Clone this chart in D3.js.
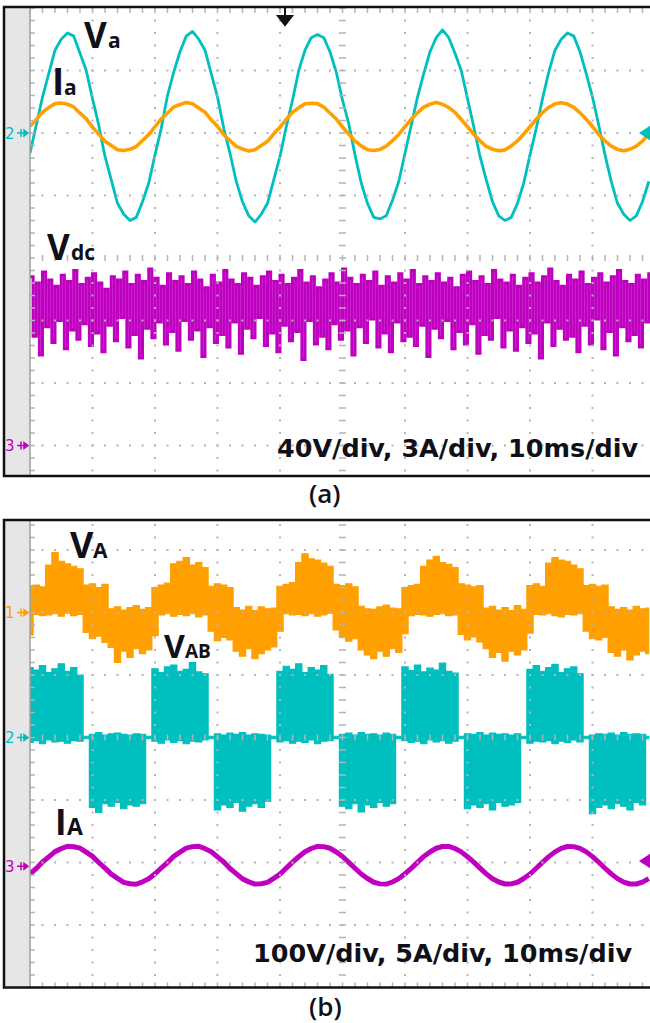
<!DOCTYPE html>
<html>
<head>
<meta charset="utf-8">
<script src="https://cdn.jsdelivr.net/npm/d3@7"></script>
<style>
  body { margin: 0; background: #fff; }
  svg { display: block; }
</style>
</head>
<body>
<div id="chart"></div>
<script>
// one sample per ms, t = 0..99 ms (10 ms/div)

// panel (a), channel 2: Va [V], Ia [A]
const vaVolts = [
  -13, 5, 23, 38, 53, 60, 64, 62, 51, 40, 22, 5, -15, -30, -45, -52, -56, -54, -44, -32,
  -14, 3, 24, 39, 52, 62, 65, 60, 53, 38, 23, 3, -13, -31, -44, -53, -57, -52, -45, -30,
  -15, 4, 21, 40, 53, 61, 63, 61, 52, 39, 21, 6, -14, -32, -45, -54, -55, -53, -43, -31,
  -13, 5, 23, 38, 52, 61, 66, 61, 51, 40, 22, 4, -15, -30, -44, -53, -56, -54, -45, -32,
  -14, 3, 22, 39, 53, 60, 64, 62, 52, 38, 23, 5, -14, -31, -45, -52, -56, -53, -44, -31
];
const iaAmps = [
  0.32, 0.64, 1.0, 1.22, 1.41, 1.44, 1.38, 1.25, 0.95, 0.68, 0.28, -0.05, -0.4, -0.6, -0.8, -0.84, -0.78, -0.65, -0.36, -0.08,
  0.3, 0.68, 0.96, 1.25, 1.37, 1.46, 1.4, 1.2, 1.0, 0.63, 0.32, -0.08, -0.37, -0.64, -0.77, -0.86, -0.8, -0.6, -0.4, -0.04,
  0.28, 0.65, 0.99, 1.22, 1.4, 1.43, 1.41, 1.24, 0.96, 0.67, 0.29, -0.05, -0.39, -0.62, -0.8, -0.84, -0.79, -0.63, -0.37, -0.07,
  0.31, 0.67, 0.97, 1.24, 1.38, 1.47, 1.38, 1.22, 0.99, 0.65, 0.3, -0.06, -0.38, -0.64, -0.78, -0.85, -0.81, -0.62, -0.38, -0.05,
  0.3, 0.66, 0.98, 1.23, 1.4, 1.45, 1.39, 1.23, 0.97, 0.66, 0.31, -0.06, -0.38, -0.63, -0.79, -0.85, -0.78, -0.63, -0.39, -0.06
];

// panel (a), channel 3: Vdc ripple, upper / lower swing in each ms [V]
const vdcHi = [
  108, 104, 111, 106, 102, 109, 105, 112, 103, 107, 110, 104, 100, 108, 106, 111, 103, 109, 105, 113,
  107, 102, 110, 105, 108, 103, 111, 106, 101, 109, 104, 112, 106, 103, 110, 107, 102, 108, 111, 105,
  109, 103, 107, 112, 104, 108, 101, 106, 110, 104, 113, 107, 103, 109, 105, 111, 102, 108, 104, 110,
  106, 112, 103, 108, 105, 110, 104, 107, 101, 109, 111, 105, 108, 103, 112, 106, 104, 109, 102, 107,
  110, 104, 108, 113, 105, 102, 109, 106, 111, 103, 107, 110, 104, 108, 112, 105, 103, 109, 106, 110
];
const vdcLo = [
  70, 58, 76, 66, 80, 62, 74, 68, 78, 64, 72, 60, 77, 67, 82, 63, 71, 56, 75, 69,
  79, 65, 73, 61, 80, 68, 74, 57, 76, 66, 71, 63, 79, 59, 75, 69, 82, 64, 72, 60,
  77, 67, 73, 55, 80, 65, 70, 62, 78, 68, 74, 58, 76, 66, 81, 63, 72, 60, 79, 67,
  70, 64, 77, 57, 75, 69, 80, 62, 73, 65, 78, 59, 71, 68, 82, 63, 74, 61, 76, 66,
  72, 56, 79, 64, 75, 68, 70, 60, 77, 65, 81, 62, 73, 58, 76, 67, 71, 63, 79, 66
];

// panel (b), channel 1: VA envelope [V]
const vAHi = [
  43, 44, 41, 76, 96, 82, 78, 74, 70, 44, 46, 40, 45, 6, 9, 4, 8, 11, 5, 8,
  40, 44, 47, 78, 82, 88, 76, 80, 72, 42, 46, 44, 40, 8, 4, 10, 3, 9, 6, 7,
  42, 45, 48, 80, 94, 86, 84, 79, 74, 45, 43, 46, 41, 10, 6, 5, 9, 12, 7, 6,
  40, 43, 45, 74, 84, 90, 80, 77, 72, 46, 44, 41, 43, 7, 10, 4, 8, 3, 11, 5,
  43, 46, 42, 79, 88, 84, 82, 76, 70, 43, 45, 42, 44, 9, 5, 8, 4, 10, 6, 7
];
const vALo = [
  -36, -3, -5, -4, -2, -6, -1, -5, -3, -32, -42, -38, -48, -56, -80, -62, -72, -58, -66, -60,
  -37, -4, -2, -6, -3, -5, -2, -7, -4, -30, -45, -40, -44, -62, -70, -58, -74, -66, -60, -55,
  -30, -2, -4, -3, -5, -2, -6, -4, -1, -28, -40, -46, -42, -60, -68, -74, -62, -70, -58, -64,
  -34, -5, -3, -4, -6, -3, -2, -5, -4, -35, -44, -39, -47, -58, -72, -64, -78, -62, -68, -60,
  -33, -3, -4, -2, -5, -7, -3, -4, -2, -30, -42, -44, -40, -64, -70, -60, -76, -68, -62, -66
];

// panel (b), channel 2: VAB envelope [V]
const vABHi = [
  112, 108, 115, 104, 110, 118, 106, 112, 100, 2, 5, 8, 4, 6, 7, 5, 4, 6, 5, 2,
  110, 104, 113, 116, 106, 109, 120, 105, 102, 2, 6, 4, 7, 5, 8, 4, 6, 5, 4, 2,
  106, 114, 109, 118, 104, 112, 108, 115, 101, 2, 5, 7, 4, 8, 5, 6, 4, 7, 5, 2,
  113, 107, 116, 105, 111, 108, 119, 106, 103, 2, 6, 5, 8, 4, 7, 5, 6, 4, 6, 2,
  109, 115, 106, 112, 117, 104, 110, 113, 102, 2, 4, 6, 5, 7, 4, 8, 5, 6, 5, 2
];
const vABLo = [
  -8, -5, -10, -4, -7, -6, -9, -5, -6, -2, -112, -120, -106, -110, -104, -114, -108, -110, -106, -2,
  -6, -9, -4, -8, -5, -10, -6, -7, -4, -2, -116, -108, -112, -104, -118, -110, -106, -112, -102, -2,
  -7, -5, -9, -6, -8, -4, -10, -6, -5, -2, -110, -114, -106, -119, -108, -112, -104, -110, -106, -2,
  -5, -8, -6, -10, -4, -7, -5, -9, -6, -2, -114, -108, -112, -106, -116, -104, -110, -108, -104, -2,
  -9, -6, -7, -5, -10, -6, -8, -4, -7, -2, -122, -112, -108, -114, -106, -110, -116, -104, -108, -2
];

// panel (b), channel 3: IA [A]
const iAAmps = [
  -0.61, -0.18, 0.34, 0.75, 1.17, 1.41, 1.6, 1.56, 1.45, 1.13, 0.79, 0.3, -0.15, -0.63, -0.97, -1.29, -1.4, -1.44, -1.25, -1.0,
  -0.6, -0.14, 0.3, 0.79, 1.13, 1.45, 1.57, 1.6, 1.41, 1.16, 0.75, 0.34, -0.18, -0.59, -1.01, -1.25, -1.43, -1.4, -1.29, -0.97,
  -0.63, -0.15, 0.33, 0.76, 1.16, 1.42, 1.59, 1.57, 1.44, 1.14, 0.78, 0.31, -0.16, -0.62, -0.98, -1.28, -1.41, -1.43, -1.26, -0.99,
  -0.6, -0.17, 0.31, 0.78, 1.14, 1.44, 1.58, 1.59, 1.42, 1.15, 0.76, 0.33, -0.15, -0.61, -1.0, -1.26, -1.42, -1.41, -1.28, -0.98,
  -0.62, -0.16, 0.32, 0.77, 1.15, 1.43, 1.58, 1.57, 1.43, 1.15, 0.77, 0.32, -0.16, -0.61, -0.99, -1.27, -1.42, -1.42, -1.27, -0.99
];

const scaleTexts = ["40V/div, 3A/div, 10ms/div", "100V/div, 5A/div, 10ms/div"];
const panelNames = ["(a)", "(b)"];

const width = 650, height = 1023;
const colors = { ch1: "#ffa000", ch2: "#00bfbf", ch3: "#c000c0" };
const gridColor = "#b4b4b4";

const svg = d3.select("#chart")
    .append("svg")
    .attr("width", width)
    .attr("height", height);

svg.append("rect").attr("width", width).attr("height", height).attr("fill", "#fff");

// time axis, 10 divisions of 10 ms
const x = d3.scaleLinear().domain([0, 100]).range([30, 655]);
const samples = d3.range(vaVolts.length);

const panels = [
    { top: 7, bottom: 476, center: 258, id: "a" },
    { top: 520, bottom: 987.5, center: 737.5, id: "b" }
].map(p => {
    p.y = d3.scaleLinear().domain([-4, 4]).range([p.center + 250, p.center - 250]);
    p.g = svg.append("g");
    svg.append("clipPath").attr("id", "clip" + p.id)
        .append("rect").attr("x", 30).attr("y", p.top).attr("width", 620).attr("height", p.bottom - p.top);
    return p;
});

// channel position on screen: ref offset in div + value / (units per div)
const chY = (p, ref, perDiv) => v => p.y(ref + v / perDiv);

function frame(p) {
    p.g.append("rect")
        .attr("x", 5).attr("y", p.top).attr("width", 25).attr("height", p.bottom - p.top)
        .attr("fill", "#e6e6e6");
}

function grid(p) {
    const g = p.g.append("g").attr("clip-path", `url(#clip${p.id})`);
    const yTop = p.y(4), yBot = p.y(-4);
    // horizontal division lines
    [-3, -2, -1, 1, 2, 3].forEach(k => {
        g.append("line")
            .attr("x1", x(0)).attr("x2", x(100)).attr("y1", p.y(k)).attr("y2", p.y(k))
            .attr("stroke", gridColor).attr("stroke-width", 2)
            .attr("stroke-dasharray", "2 10.5").attr("stroke-dashoffset", 1);
    });
    // vertical division lines
    d3.range(1, 10).filter(j => j !== 5).forEach(j => {
        g.append("line")
            .attr("x1", x(j * 10)).attr("x2", x(j * 10)).attr("y1", yTop).attr("y2", yBot)
            .attr("stroke", gridColor).attr("stroke-width", 2)
            .attr("stroke-dasharray", "2 10.5").attr("stroke-dashoffset", 1);
    });
    // centre lines with minor ticks
    g.append("line")
        .attr("x1", x(0)).attr("x2", x(100)).attr("y1", p.y(0)).attr("y2", p.y(0))
        .attr("stroke", gridColor).attr("stroke-width", 6)
        .attr("stroke-dasharray", "1.5 11").attr("stroke-dashoffset", 0.75);
    g.append("line")
        .attr("x1", x(50)).attr("x2", x(50)).attr("y1", yTop).attr("y2", yBot)
        .attr("stroke", gridColor).attr("stroke-width", 7)
        .attr("stroke-dasharray", "1.5 11").attr("stroke-dashoffset", 0.75);
    // edge ticks
    g.append("line")
        .attr("x1", x(0) + 2.5).attr("x2", x(0) + 2.5).attr("y1", yTop).attr("y2", yBot)
        .attr("stroke", gridColor).attr("stroke-width", 5)
        .attr("stroke-dasharray", "1.5 11").attr("stroke-dashoffset", 0.75);
    [yTop + 2.5, yBot - 2.5].forEach(yy => {
        g.append("line")
            .attr("x1", x(0)).attr("x2", x(100)).attr("y1", yy).attr("y2", yy)
            .attr("stroke", gridColor).attr("stroke-width", 5)
            .attr("stroke-dasharray", "1.5 11").attr("stroke-dashoffset", 0.75);
    });
    p.g.append("line")
        .attr("x1", 30).attr("x2", 30).attr("y1", p.top).attr("y2", p.bottom)
        .attr("stroke", "#a0a0a0").attr("stroke-width", 1.5);
}

function border(p) {
    p.g.append("rect")
        .attr("x", 4).attr("y", p.top).attr("width", 660).attr("height", p.bottom - p.top)
        .attr("fill", "none").attr("stroke", "#111").attr("stroke-width", 2.5);
}

function lineTrace(p, values, yf, color, w) {
    p.g.append("path")
        .attr("clip-path", `url(#clip${p.id})`)
        .datum(values)
        .attr("fill", "none")
        .attr("stroke", color)
        .attr("stroke-width", w)
        .attr("stroke-linejoin", "round")
        .attr("d", d3.line().x((d, i) => x(i)).y(d => yf(d)));
}

function bandTrace(p, hi, lo, yf, color) {
    p.g.append("path")
        .attr("clip-path", `url(#clip${p.id})`)
        .datum(samples)
        .attr("fill", color)
        .attr("stroke", color)
        .attr("stroke-width", 1.2)
        .attr("d", d3.area().curve(d3.curveStep)
            .x(i => x(i)).y0(i => yf(lo[i])).y1(i => yf(hi[i])));
}

function noiseTrace(p, hi, lo, yf, color) {
    // square meander between upper and lower swing, half a ms apart
    const pts = [];
    samples.forEach(i => { pts.push([i, hi[i]]); pts.push([i + 0.5, lo[i]]); });
    p.g.append("path")
        .attr("clip-path", `url(#clip${p.id})`)
        .datum(pts)
        .attr("fill", "none")
        .attr("stroke", color)
        .attr("stroke-width", 3)
        .attr("d", d3.line().curve(d3.curveStepAfter).x(d => x(d[0])).y(d => yf(d[1])));
}

function chMarker(p, label, yPos, color) {
    p.g.append("text")
        .attr("x", 5).attr("y", yPos + 5.5)
        .attr("font-family", "DejaVu Sans").attr("font-size", 15)
        .attr("fill", color).text(label);
    p.g.append("path")
        .attr("d", `M17,${yPos}H28M21,${yPos - 4}V${yPos + 4}M24,${yPos - 3}L28,${yPos}L24,${yPos + 3}Z`)
        .attr("stroke", color).attr("stroke-width", 1.5).attr("fill", color);
}

function rightMarker(p, yPos, color) {
    p.g.append("path")
        .attr("d", `M639,${yPos}L651,${yPos - 8}L651,${yPos + 8}Z`)
        .attr("fill", color);
}

function traceLabel(p, main, sub, lx, ly, mainSize, subX, subSize) {
    const t = p.g.append("g").attr("font-family", "Open Sans").attr("font-weight", 700).attr("fill", "#101018");
    t.append("text").attr("x", lx).attr("y", ly).attr("font-size", mainSize).text(main);
    t.append("text").attr("x", subX).attr("y", ly).attr("font-size", subSize).text(sub);
}

// Panel (a)
const pa = panels[0];
frame(pa);
const yCh2a = chY(pa, 2, 40), yIa = chY(pa, 2, 3), yCh3a = chY(pa, -3, 40);
noiseTrace(pa, vdcHi, vdcLo, yCh3a, colors.ch3);
lineTrace(pa, vaVolts, yCh2a, colors.ch2, 2.8);
lineTrace(pa, iaAmps, yIa, colors.ch1, 3.6);
grid(pa);
border(pa);
chMarker(pa, "2", pa.y(2), colors.ch2);
chMarker(pa, "3", pa.y(-3), colors.ch3);
rightMarker(pa, pa.y(2), colors.ch2);
// trigger position
pa.g.append("path")
    .attr("d", `M285,${pa.top}V17M278,16H292L285,25Z`)
    .attr("stroke", "#111").attr("stroke-width", 2).attr("fill", "#111");
traceLabel(pa, "V", "a", 84, 48, 35, 108, 21);
traceLabel(pa, "I", "a", 52, 95, 37, 64, 21);
traceLabel(pa, "V", "dc", 47, 260, 35, 71, 21);

// Panel (b)
const pb = panels[1];
frame(pb);
const yVA = chY(pb, 2, 100), yVAB = chY(pb, 0, 100), yIA = chY(pb, -2.06, 5);
bandTrace(pb, vAHi, vALo, yVA, colors.ch1);
bandTrace(pb, vABHi, vABLo, yVAB, colors.ch2);
lineTrace(pb, iAAmps, yIA, colors.ch3, 5);
grid(pb);
border(pb);
chMarker(pb, "1", pb.y(2), colors.ch1);
chMarker(pb, "2", pb.y(0), colors.ch2);
chMarker(pb, "3", pb.y(-2.06), colors.ch3);
rightMarker(pb, 861, colors.ch3);
traceLabel(pb, "V", "A", 70, 558, 36, 93, 21);
traceLabel(pb, "V", "AB", 164, 658, 32, 185, 19);
traceLabel(pb, "I", "A", 55, 835, 35, 67, 23);

// scale notes and captions
[pa, pb].forEach((p, k) => {
    p.g.append("text")
        .attr("x", k === 0 ? 277 : 253)
        .attr("y", k === 0 ? 457 : 962)
        .attr("textLength", k === 0 ? 361 : 379)
        .attr("lengthAdjust", "spacingAndGlyphs")
        .attr("font-family", "DejaVu Sans").attr("font-weight", 700).attr("font-size", 24)
        .attr("fill", "#101018")
        .text(scaleTexts[k]);
    svg.append("text")
        .attr("x", 309)
        .attr("y", k === 0 ? 503 : 1016)
        .attr("font-family", "Open Sans").attr("font-weight", 600).attr("font-size", 26)
        .attr("fill", "#101018")
        .text(panelNames[k]);
});
</script>
</body>
</html>
